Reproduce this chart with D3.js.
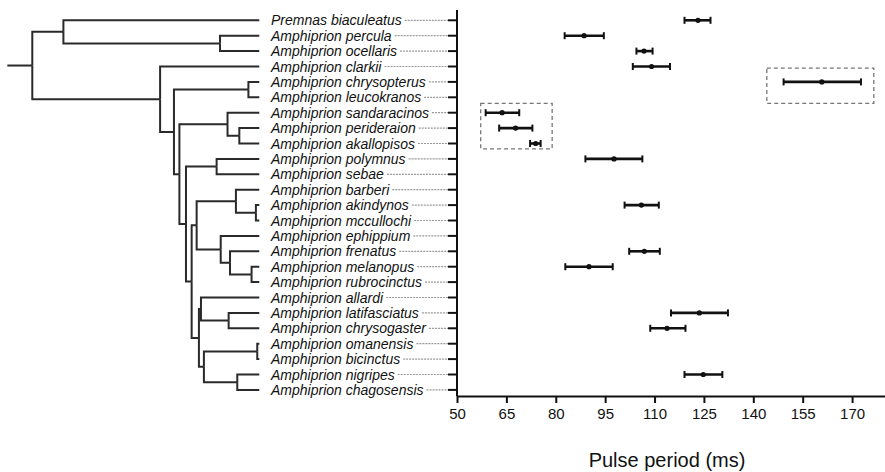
<!DOCTYPE html>
<html lang="en">
<head>
    <meta charset="UTF-8">
    <title>Pulse period by species</title>
    <style>
        body {
            margin: 0;
            background: #fff;
        }

        #chart-wrapper {
            width: 885px;
            height: 472px;
        }

        text {
            font-family: "Liberation Sans", Arial, sans-serif;
        }
    </style>
</head>

<body>
    <div id="chart-wrapper"></div>

    <script src="https://d3js.org/d3.v7.min.js"></script>
    <script>
        // species in tree order (top to bottom)
        const species = [
            'Premnas biaculeatus', 'Amphiprion percula', 'Amphiprion ocellaris',
            'Amphiprion clarkii', 'Amphiprion chrysopterus', 'Amphiprion leucokranos',
            'Amphiprion sandaracinos', 'Amphiprion perideraion', 'Amphiprion akallopisos',
            'Amphiprion polymnus', 'Amphiprion sebae', 'Amphiprion barberi',
            'Amphiprion akindynos', 'Amphiprion mccullochi', 'Amphiprion ephippium',
            'Amphiprion frenatus', 'Amphiprion melanopus', 'Amphiprion rubrocinctus',
            'Amphiprion allardi', 'Amphiprion latifasciatus', 'Amphiprion chrysogaster',
            'Amphiprion omanensis', 'Amphiprion bicinctus', 'Amphiprion nigripes',
            'Amphiprion chagosensis'
        ]

        // pulse period (ms): mean and error bar ends, null = no recording
        const meanPeriod = [123.2, 88.6, 106.8, 109.1, 160.8, null, 63.7, 67.8, 73.9, 97.7, null, null,
            106.0, null, null, 106.9, 90.1, null, null, 123.6, 113.8, null, null, 124.8, null]
        const lowPeriod = [119.1, 82.7, 104.5, 103.4, 149.2, null, 58.7, 62.8, 72.2, 89.0, null, null,
            100.9, null, null, 102.3, 82.9, null, null, 115.0, 108.7, null, null, 119.1, null]
        const highPeriod = [127.0, 94.6, 109.4, 114.7, 172.7, null, 68.9, 72.9, 75.4, 106.3, null, null,
            111.3, null, null, 111.6, 97.3, null, null, 132.3, 119.4, null, null, 130.6, null]

        const xTicks = [50, 65, 80, 95, 110, 125, 140, 155, 170]
        const xDomain = [50, 180]

        // phylogeny: [node, parent, relative depth (root 0, tips 100)]
        const rootStem = 11
        const treeNodes = [
            ['root', null, 0],
            ['n1', 'root', 13.7],
            ['Premnas biaculeatus', 'n1', 100],
            ['n2', 'n1', 82.7],
            ['Amphiprion percula', 'n2', 100],
            ['Amphiprion ocellaris', 'n2', 100],
            ['n3', 'root', 56.3],
            ['Amphiprion clarkii', 'n3', 100],
            ['n4', 'n3', 62.4],
            ['n5', 'n4', 95.2],
            ['Amphiprion chrysopterus', 'n5', 100],
            ['Amphiprion leucokranos', 'n5', 100],
            ['n6', 'n4', 64.8],
            ['n7', 'n6', 86.0],
            ['Amphiprion sandaracinos', 'n7', 100],
            ['n8', 'n7', 91.2],
            ['Amphiprion perideraion', 'n8', 100],
            ['Amphiprion akallopisos', 'n8', 100],
            ['n9', 'n6', 67.7],
            ['n10', 'n9', 81.2],
            ['Amphiprion polymnus', 'n10', 100],
            ['Amphiprion sebae', 'n10', 100],
            ['n11', 'n9', 70.2],
            ['n12', 'n11', 72.4],
            ['n13', 'n12', 89.7],
            ['Amphiprion barberi', 'n13', 100],
            ['n14', 'n13', 98.5],
            ['Amphiprion akindynos', 'n14', 100],
            ['Amphiprion mccullochi', 'n14', 100],
            ['n15', 'n12', 83.0],
            ['Amphiprion ephippium', 'n15', 100],
            ['n16', 'n15', 87.1],
            ['Amphiprion frenatus', 'n16', 100],
            ['n17', 'n16', 96.6],
            ['Amphiprion melanopus', 'n17', 100],
            ['Amphiprion rubrocinctus', 'n17', 100],
            ['n18', 'n11', 73.4],
            ['n19', 'n18', 74.3],
            ['Amphiprion allardi', 'n19', 100],
            ['n20', 'n19', 86.5],
            ['Amphiprion latifasciatus', 'n20', 100],
            ['Amphiprion chrysogaster', 'n20', 100],
            ['n21', 'n18', 75.6],
            ['n22', 'n21', 99.1],
            ['Amphiprion omanensis', 'n22', 100],
            ['Amphiprion bicinctus', 'n22', 100],
            ['n23', 'n21', 90.3],
            ['Amphiprion nigripes', 'n23', 100],
            ['Amphiprion chagosensis', 'n23', 100]
        ]

        // dashed highlight boxes: row span (fractional row index) and period span
        const boxRows = [[5.4, 8.35], [3.1, 5.4]]
        const boxPeriods = [[57.2, 78.9], [144.1, 176.6]]

        const width = 885
        const height = 472
        const svg = d3.select('#chart-wrapper')
            .append('svg')
            .attr('width', width)
            .attr('height', height)

        const plot = { left: 457, right: 885, top: 10, bottom: 396 }

        const rowY = d3.scaleLinear()
            .domain([0, species.length - 1])
            .range([20.3, 389.9])
        const treeX = d3.scaleLinear()
            .domain([0, 100])
            .range([32.3, 259.3])
        const xScale = d3.scaleLinear()
            .domain(xDomain)
            .range([plot.left, plot.right])

        drawTree()
        drawLabels()
        drawAxes()
        drawBoxes()
        drawErrorBars()

        function drawTree() {
            const root = d3.stratify()
                .id(d => d[0])
                .parentId(d => d[1])(treeNodes)

            root.eachAfter(node => {
                node.depthValue = node.data[2]
                if (!node.children) {
                    node.y = rowY(species.indexOf(node.id))
                } else {
                    const first = node.children[0]
                    const last = node.children[node.children.length - 1]
                    node.y = (first.y + last.y) / 2
                }
            })

            const treeG = svg.append('g')
                .attr('fill', 'none')
                .attr('stroke', '#2a2a2a')
                .attr('stroke-width', 2)

            treeG.selectAll('path.link')
                .data(root.links())
                .join('path')
                .attr('class', 'link')
                .attr('d', d => `M${treeX(d.source.depthValue)},${d.source.y}V${d.target.y}H${treeX(d.target.depthValue)}`)

            treeG.append('path')
                .attr('d', `M${treeX(-rootStem)},${root.y}H${treeX(0)}`)
        }

        function drawLabels() {
            const labelG = svg.append('g')
            const labels = labelG.selectAll('text')
                .data(species)
                .join('text')
                .attr('x', 271)
                .attr('y', (d, i) => rowY(i))
                .attr('dy', '0.36em')
                .attr('font-size', 14)
                .attr('font-style', 'italic')
                .attr('fill', '#111')
                .text(d => d)

            labels.each(function (d, i) {
                const end = 271 + this.getComputedTextLength() + 3
                labelG.append('line')
                    .attr('x1', end)
                    .attr('x2', plot.left - 9)
                    .attr('y1', rowY(i))
                    .attr('y2', rowY(i))
                    .attr('stroke', '#9a9a9a')
                    .attr('stroke-width', 1.2)
                    .attr('stroke-dasharray', '2,1')
            })
        }

        function drawAxes() {
            // y axis with a tick per species
            const yG = svg.append('g')
                .attr('stroke', '#111')
                .attr('stroke-width', 2)
            yG.append('line')
                .attr('x1', plot.left)
                .attr('x2', plot.left)
                .attr('y1', plot.top)
                .attr('y2', plot.bottom)
            yG.selectAll('line.tick')
                .data(species)
                .join('line')
                .attr('class', 'tick')
                .attr('x1', plot.left - 9)
                .attr('x2', plot.left)
                .attr('y1', (d, i) => rowY(i))
                .attr('y2', (d, i) => rowY(i))

            const xAxis = d3.axisBottom(xScale)
                .tickValues(xTicks)
                .tickSize(7)
                .tickSizeOuter(0)
                .tickPadding(5)

            const xG = svg.append('g')
                .attr('transform', `translate(0, ${plot.bottom})`)
                .call(xAxis)
            xG.select('.domain')
                .attr('stroke', '#111')
                .attr('stroke-width', 2)
            xG.selectAll('.tick line')
                .attr('stroke', '#111')
                .attr('stroke-width', 2)
            xG.selectAll('.tick text')
                .attr('font-size', 15)
                .attr('font-family', '"Liberation Sans", Arial, sans-serif')
                .attr('fill', '#111')

            svg.append('text')
                .attr('x', 667)
                .attr('y', 467)
                .attr('text-anchor', 'middle')
                .attr('font-size', 20)
                .attr('fill', '#111')
                .text('Pulse period (ms)')
        }

        function drawBoxes() {
            svg.append('g')
                .selectAll('rect')
                .data(boxRows)
                .join('rect')
                .attr('x', (d, i) => xScale(boxPeriods[i][0]))
                .attr('width', (d, i) => xScale(boxPeriods[i][1]) - xScale(boxPeriods[i][0]))
                .attr('y', d => rowY(d[0]))
                .attr('height', d => rowY(d[1]) - rowY(d[0]))
                .attr('fill', 'none')
                .attr('stroke', '#777')
                .attr('stroke-width', 1.3)
                .attr('stroke-dasharray', '4,3')
        }

        function drawErrorBars() {
            const rows = species.map((d, i) => ({
                name: d,
                i,
                mean: meanPeriod[i],
                low: lowPeriod[i],
                high: highPeriod[i]
            })).filter(d => d.mean != null)

            const barG = svg.append('g')
                .attr('stroke', '#111')
                .attr('fill', '#111')

            const bar = barG.selectAll('g')
                .data(rows)
                .join('g')
                .attr('transform', d => `translate(0, ${rowY(d.i)})`)

            bar.append('line')
                .attr('x1', d => xScale(d.low))
                .attr('x2', d => xScale(d.high))
                .attr('stroke-width', 2.6)
            bar.append('line')
                .attr('x1', d => xScale(d.low))
                .attr('x2', d => xScale(d.low))
                .attr('y1', -3.5)
                .attr('y2', 3.5)
                .attr('stroke-width', 2)
            bar.append('line')
                .attr('x1', d => xScale(d.high))
                .attr('x2', d => xScale(d.high))
                .attr('y1', -3.5)
                .attr('y2', 3.5)
                .attr('stroke-width', 2)
            bar.append('circle')
                .attr('cx', d => xScale(d.mean))
                .attr('r', 2.6)
                .attr('stroke', 'none')
        }
    </script>
</body>
</html>
